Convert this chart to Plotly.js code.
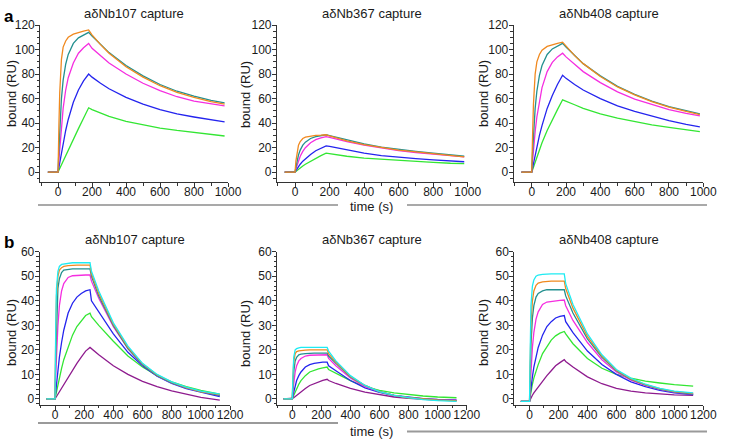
<!DOCTYPE html>
<html>
<head>
<meta charset="utf-8">
<script src="https://cdn.plot.ly/plotly-3.0.1.min.js"></script>
<style>
  html, body { margin: 0; padding: 0; background: #fff; }
  #chart { width: 743px; height: 440px; }
</style>
</head>
<body>
<div id="chart"></div>
<script>
// ---- time points (s) ----
const timeA = [-60, 0, 5, 10, 20, 30, 45, 60, 90, 120, 150, 180, 200, 250, 300, 400, 500, 600, 700, 800, 900, 980];
const timeB = [-60, 0, 5, 10, 20, 30, 45, 60, 90, 120, 150, 180, 210, 240, 250, 300, 400, 500, 600, 700, 800, 900, 1000, 1130];

// ---- row a: bound (RU) per analyte concentration ----
const a107Green   = [0, 0, 1.5, 3, 6, 9, 13.5, 18, 27, 35.5, 44, 52.5, 51, 48, 45.5, 41.5, 38.5, 36, 34, 32.5, 31, 29.5];
const a107Blue    = [0, 0, 4, 8, 16, 24, 34, 43, 57, 67, 74.5, 80, 77.5, 72.5, 68, 61, 55.5, 51, 47.5, 45, 42.5, 41];
const a107Magenta = [0, 0, 10, 20, 38, 52, 67, 77, 89, 97, 101.5, 105, 101, 95, 89, 80, 72.5, 66.5, 61.5, 58, 55.5, 54];
const a107Teal    = [0, 0, 18, 35, 60, 75, 88, 96, 105, 109.5, 112, 114, 111, 104, 97.5, 87, 78.5, 71.5, 66, 62, 58.5, 56.5];
const a107Orange  = [0, 0, 38, 65, 92, 102, 107, 110, 112.5, 114, 115, 116, 112, 104, 97, 86, 77.5, 70.5, 65, 61, 57.5, 55.5];

const a367Green   = [0, 0, 0.6, 1.2, 2.5, 3.5, 5, 6.5, 9, 11.5, 13.5, 15.5, 15, 14, 13, 11.5, 10.5, 9.5, 8.8, 8, 7.3, 7];
const a367Blue    = [0, 0, 1.3, 2.5, 4.5, 6.5, 9, 11, 14.5, 17.5, 19.5, 21.5, 21, 19.5, 18, 15.5, 13.5, 12, 11, 10, 9, 8.5];
const a367Magenta = [0, 0, 2.5, 5, 9, 13, 17, 20, 24, 26.5, 28, 29, 28.3, 26.5, 25, 22, 19.5, 17.5, 16, 14.5, 13.5, 12.5];
const a367Teal    = [0, 0, 4, 8, 14, 18, 22, 24.5, 27.5, 29, 29.8, 30.5, 29.8, 28, 26, 23, 20.5, 18.5, 17, 15.5, 14, 13];
const a367Orange  = [0, 0, 9, 15, 22, 25, 27.5, 28.5, 29.5, 30, 30.2, 30.5, 29.5, 27.5, 25.5, 22.5, 20, 18, 16.5, 15, 13.5, 12.5];

const a408Green   = [0, 0, 2, 4, 8, 12, 18, 24, 34, 43, 51, 59, 58, 55, 52, 47.5, 44, 41, 38.5, 36.5, 34.5, 33];
const a408Blue    = [0, 0, 3.5, 7, 14, 21, 30, 38, 52, 62.5, 71.5, 79, 76.5, 71.5, 67, 60, 54, 49.5, 45.5, 42, 39, 37];
const a408Magenta = [0, 0, 9, 18, 33, 45, 59, 69, 82, 89.5, 94, 97, 94, 88, 82, 73, 65.5, 59.5, 55, 51, 48, 46];
const a408Teal    = [0, 0, 16, 30, 52, 66, 79, 87, 96, 100.5, 103, 105, 102, 95, 88.5, 78.5, 70, 63.5, 58, 53.5, 50, 47.5];
const a408Orange  = [0, 0, 30, 55, 80, 90, 96, 99.5, 102.5, 104, 105, 106, 103, 95, 88.5, 78, 69.5, 63, 57.5, 53, 49.5, 47];

// ---- row b ----
const b107Purple  = [0, 0, 0.5, 1, 2, 3, 4.5, 6, 9, 12, 14.5, 17, 19.5, 21, 20.5, 18, 13.5, 10, 7.2, 5, 3.3, 1.8, 0.6, -0.5];
const b107Green   = [0, 0, 1.5, 3, 6, 9, 12.5, 16, 21.5, 26, 29.5, 32, 34, 35, 33.5, 30, 23.5, 17.5, 13, 9.5, 7, 5, 3.5, 2];
const b107Blue    = [0, 0, 3, 6, 12, 17, 23, 28, 35, 39, 41.5, 43, 44, 44.5, 40, 35.5, 26.5, 19, 13.5, 9.3, 6.3, 4.2, 2.8, 1];
const b107Magenta = [0, 0, 10, 18, 30, 38, 44, 47, 49.5, 50.2, 50.4, 50.5, 50.5, 50.5, 48, 41, 29.5, 20.5, 14, 9.5, 6.5, 4.5, 3, 1.5];
const b107Teal    = [0, 0, 17, 30, 45, 49, 51.5, 52.5, 52.8, 53, 53, 53, 53, 53, 50, 42, 30, 20.5, 14, 9.5, 6.5, 4.5, 3, 1.5];
const b107Orange  = [0, 0, 26, 42, 50, 52.5, 53.5, 54, 54.3, 54.5, 54.5, 54.5, 54.5, 54.5, 51, 43, 30.5, 21, 14.3, 9.8, 6.8, 4.6, 3, 1.8];
const b107Cyan    = [0, 0, 30, 45, 52, 54, 54.8, 55, 55.3, 55.5, 55.5, 55.5, 55.5, 55.5, 52, 44, 31, 21.5, 14.5, 10, 7, 4.8, 3.2, 2];

const b367Purple  = [0, 0, 0.3, 0.5, 1, 1.5, 2.2, 3, 4.3, 5.5, 6.3, 7, 7.6, 8, 7.5, 6.3, 4.3, 2.8, 1.7, 0.8, 0.2, -0.2, -0.5, -0.7];
const b367Green   = [0, 0, 0.8, 1.5, 3, 4.5, 6, 7.5, 9.5, 11, 11.8, 12.3, 12.7, 13, 12, 10.5, 7.5, 5, 3.5, 2.5, 1.8, 1.2, 0.8, 0.5];
const b367Blue    = [0, 0, 1.5, 3, 5.5, 7.5, 9.5, 11, 13, 14, 14.5, 14.8, 15, 15, 13.5, 11.5, 7.5, 4.5, 2.7, 1.4, 0.6, 0.1, -0.2, -0.4];
const b367Magenta = [0, 0, 3.5, 7, 11, 13.5, 15.5, 16.5, 17.5, 17.8, 17.9, 18, 18, 18, 16.5, 13.5, 8.5, 5, 3, 1.5, 0.5, 0, -0.3, -0.5];
const b367Teal    = [0, 0, 6, 11, 15.5, 17, 18, 18.3, 18.5, 18.7, 18.7, 18.7, 18.7, 18.7, 17.5, 14.5, 9, 5.5, 3, 1.5, 0.5, 0, -0.4, -0.7];
const b367Orange  = [0, 0, 9, 15, 18.5, 19.3, 19.6, 19.8, 19.9, 20, 20, 20, 20, 20, 18.5, 15, 9.2, 5.5, 3, 1.5, 0.5, 0, -0.5, -0.8];
const b367Cyan    = [0, 0, 10, 17, 20, 20.5, 20.8, 21, 21, 21, 21, 21, 21, 21, 19.5, 15.5, 9.5, 5.5, 3, 1.5, 0.5, -0.3, -0.7, -1];

const b408Purple  = [-1, -1, -0.3, 0.5, 1.5, 2.5, 3.7, 5, 7.5, 9.5, 11.5, 13.5, 14.8, 16, 15.3, 13, 9, 6.2, 4.3, 3.2, 2.5, 2, 1.7, 1.5];
const b408Green   = [-1, -1, 1, 3, 6, 8.5, 11.5, 14, 18.5, 21.5, 24, 25.7, 26.8, 27.5, 26.5, 22.5, 16.5, 12.5, 10, 8.5, 7.3, 6.5, 5.8, 5.2];
const b408Blue    = [-1, -1, 2, 5, 9, 13, 17.5, 21, 26, 29.5, 31.5, 33, 33.6, 34, 31.5, 27, 19.5, 14, 10, 7, 5, 3.5, 2.5, 1.8];
const b408Magenta = [-1, -1, 5, 12, 21, 27, 32.5, 35.5, 38.5, 39.5, 39.8, 40, 40.2, 40.3, 38, 32, 23, 16, 11, 7.7, 5.5, 3.9, 2.8, 2];
const b408Teal    = [-1, -1, 10, 22, 33, 38, 41.5, 43, 44, 44.5, 44.5, 44.5, 44.5, 44.5, 42, 35, 24.5, 17, 11.5, 8, 5.7, 4, 2.9, 2];
const b408Orange  = [-1, -1, 15, 30, 40, 44, 46.3, 47.2, 47.7, 48, 48, 48, 48, 48, 45, 37, 25.5, 17.5, 11.7, 8.2, 5.8, 4.2, 3, 2.3];
const b408Cyan    = [-1, -1, 20, 38, 46, 48.5, 50, 50.5, 50.8, 51, 51, 51, 51, 51, 47, 38.5, 26.5, 18, 12, 8.5, 6, 4.3, 3.2, 2.5];

// ---- labels ----
const panelTitles = ['aδNb107 capture', 'aδNb367 capture', 'aδNb408 capture'];
const yLabel = 'bound (RU)';
const xLabel = 'time (s)';
const rowLetters = ['a', 'b'];

// ---- styling ----
const COLORS = {
  purple: '#8E1B8E', green: '#33E633', blue: '#2424EE', magenta: '#F52EE0',
  teal: '#23908F', orange: '#F0891F', cyan: '#1EEBF2'
};
const W = 743, H = 440;
const fx = p => p / W;
const fy = p => 1 - p / H;
const FONT = 'Liberation Sans';
const TEXT = '#1a1a1a';

function trace(x, y, color, n) {
  return {
    x: x, y: y, type: 'scatter', mode: 'lines',
    line: { color: color, width: 1.3 },
    xaxis: 'x' + (n === 1 ? '' : n), yaxis: 'y' + (n === 1 ? '' : n),
    hoverinfo: 'skip'
  };
}

const data = [];
const rowA = [
  [a107Green, a107Blue, a107Magenta, a107Teal, a107Orange],
  [a367Green, a367Blue, a367Magenta, a367Teal, a367Orange],
  [a408Green, a408Blue, a408Magenta, a408Teal, a408Orange]
];
const colA = [COLORS.green, COLORS.blue, COLORS.magenta, COLORS.teal, COLORS.orange];
rowA.forEach((set, i) => set.forEach((s, j) => data.push(trace(timeA, s, colA[j], i + 1))));

const rowB = [
  [b107Purple, b107Green, b107Blue, b107Magenta, b107Teal, b107Orange, b107Cyan],
  [b367Purple, b367Green, b367Blue, b367Magenta, b367Teal, b367Orange, b367Cyan],
  [b408Purple, b408Green, b408Blue, b408Magenta, b408Teal, b408Orange, b408Cyan]
];
const colB = [COLORS.purple, COLORS.green, COLORS.blue, COLORS.magenta, COLORS.teal, COLORS.orange, COLORS.cyan];
rowB.forEach((set, i) => set.forEach((s, j) => data.push(trace(timeB, s, colB[j], i + 4))));

// plot-area placement in pixels: [left, right]
const colsA = [[40.2, 228], [276.9, 467.7], [513.7, 703.3]];
const colsB = [[39.7, 230], [277, 466.7], [514.3, 703.3]];
const rowAy = [182, 25];      // bottom, top
const rowBy = [404.6, 251.7];

function axisBase() {
  return {
    showgrid: false, zeroline: false, showline: true,
    linecolor: '#333', linewidth: 1,
    ticks: 'outside', ticklen: 4, tickwidth: 1, tickcolor: '#333',
    tickfont: { family: FONT, size: 12, color: TEXT },
    tickangle: 0, automargin: false,
    fixedrange: true
  };
}

const layout = {
  width: W, height: H,
  margin: { l: 0, r: 0, t: 0, b: 0 },
  paper_bgcolor: '#fff', plot_bgcolor: 'rgba(0,0,0,0)',
  showlegend: false,
  font: { family: FONT },
  annotations: [], shapes: []
};

for (let i = 0; i < 3; i++) {
  const nA = i + 1, nB = i + 4;
  layout['xaxis' + (nA === 1 ? '' : nA)] = Object.assign(axisBase(), {
    domain: [fx(colsA[i][0]), fx(colsA[i][1])], range: [-105, 1000],
    anchor: 'y' + (nA === 1 ? '' : nA), tick0: 0, dtick: 200, ticklabelstandoff: -5,
    minor: { ticks: 'outside', ticklen: 2.5, dtick: 100, tickcolor: '#333' }
  });
  layout['yaxis' + (nA === 1 ? '' : nA)] = Object.assign(axisBase(), {
    domain: [fy(rowAy[0]), fy(rowAy[1])], range: [-8, 120],
    anchor: 'x' + (nA === 1 ? '' : nA), tick0: 0, dtick: 20, ticklabelstandoff: -2,
    minor: { ticks: 'outside', ticklen: 2.5, dtick: 5, tickcolor: '#333' }
  });
  layout['xaxis' + nB] = Object.assign(axisBase(), {
    domain: [fx(colsB[i][0]), fx(colsB[i][1])], range: [-105, 1200],
    anchor: 'y' + nB, tick0: 0, dtick: 200, ticklabelstandoff: -5,
    minor: { ticks: 'outside', ticklen: 2.5, dtick: 100, tickcolor: '#333' }
  });
  layout['yaxis' + nB] = Object.assign(axisBase(), {
    domain: [fy(rowBy[0]), fy(rowBy[1])], range: [-2.3, 60],
    anchor: 'x' + nB, tick0: 0, dtick: 10, ticklabelstandoff: -2,
    minor: { ticks: 'outside', ticklen: 2.5, dtick: 2, tickcolor: '#333' }
  });

  // panel titles
  layout.annotations.push({
    text: panelTitles[i], xref: 'paper', yref: 'paper',
    x: fx((colsA[i][0] + colsA[i][1]) / 2), y: fy(13.5),
    showarrow: false, xanchor: 'center', yanchor: 'middle',
    font: { family: FONT, size: 13, color: TEXT }
  });
  layout.annotations.push({
    text: panelTitles[i], xref: 'paper', yref: 'paper',
    x: fx((colsB[i][0] + colsB[i][1]) / 2), y: fy(239),
    showarrow: false, xanchor: 'center', yanchor: 'middle',
    font: { family: FONT, size: 13, color: TEXT }
  });
}

// y-axis titles
const yLabelX = [11, 245, 483];
yLabelX.forEach(px => {
  [94, 333].forEach(py => {
    layout.annotations.push({
      text: yLabel, xref: 'paper', yref: 'paper', x: fx(px), y: fy(py),
      textangle: -90, showarrow: false, xanchor: 'center', yanchor: 'middle',
      font: { family: FONT, size: 13, color: TEXT }
    });
  });
});

// shared time labels with rules either side
[[206, 205, 205, '#555', 1.1], [431.5, 423, 431.5, '#9a9a9a', 2]].forEach(r => {
  layout.annotations.push({
    text: xLabel, xref: 'paper', yref: 'paper', x: fx(372), y: fy(r[0]),
    showarrow: false, xanchor: 'center', yanchor: 'middle',
    font: { family: FONT, size: 13, color: TEXT }
  });
  layout.shapes.push({ type: 'line', xref: 'paper', yref: 'paper',
    x0: fx(38), x1: fx(338), y0: fy(r[1]), y1: fy(r[1]),
    line: { color: r[3], width: r[4] } });
  layout.shapes.push({ type: 'line', xref: 'paper', yref: 'paper',
    x0: fx(407), x1: fx(707), y0: fy(r[2]), y1: fy(r[2]),
    line: { color: r[3], width: r[4] } });
});

// row letters
[[17, rowLetters[0]], [242, rowLetters[1]]].forEach(r => {
  layout.annotations.push({
    text: '<b>' + r[1] + '</b>', xref: 'paper', yref: 'paper', x: fx(2), y: fy(r[0]),
    showarrow: false, xanchor: 'left', yanchor: 'middle',
    font: { family: FONT, size: 17, color: '#000' }
  });
});

Plotly.newPlot('chart', data, layout, { staticPlot: true, displayModeBar: false });
</script>
</body>
</html>
